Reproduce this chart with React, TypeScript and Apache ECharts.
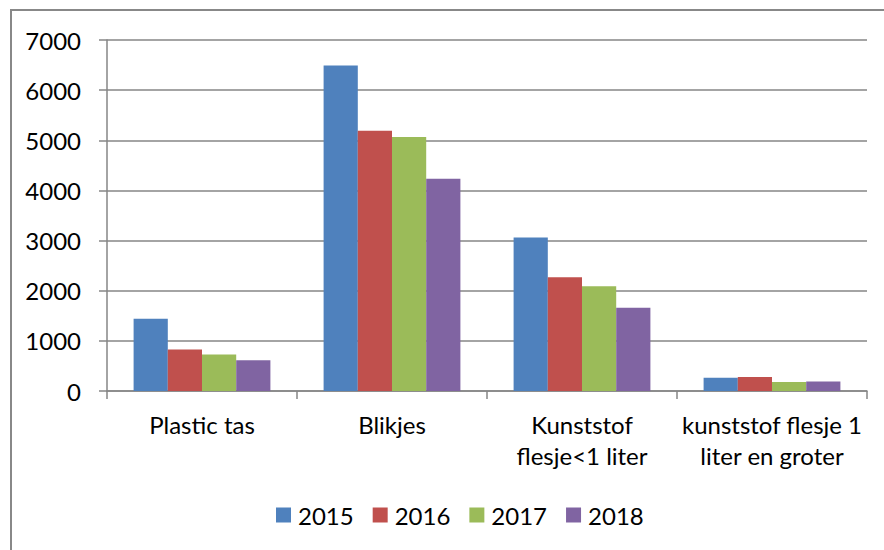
import React, { useEffect, useRef } from "react";
import * as echarts from "echarts";

const categories = ["Plastic tas", "Blikjes", "Kunststof\nflesje<1 liter", "kunststof flesje 1\nliter en groter"];
const years = ["2015", "2016", "2017", "2018"];
const v2015 = [1440, 6490, 3060, 265];
const v2016 = [830, 5190, 2270, 280];
const v2017 = [730, 5065, 2090, 180];
const v2018 = [615, 4235, 1660, 190];
const colors = ["#4F81BD", "#C0504D", "#9BBB59", "#8064A2"];
const yTicks = [0, 1000, 2000, 3000, 4000, 5000, 6000, 7000];

export default function App() {
  const ref = useRef<HTMLDivElement>(null);
  useEffect(() => {
    if (!ref.current) return;
    const chart = echarts.init(ref.current, undefined, { renderer: "svg" });
    const font = "Lato";
    const seriesData = [v2015, v2016, v2017, v2018];
    chart.setOption({
      animation: false,
      backgroundColor: "#fff",
      textStyle: { fontFamily: font },
      graphic: [
        {
          type: "rect",
          shape: { x: 11, y: 10, width: 900, height: 600 },
          style: { fill: "none", stroke: "#888888", lineWidth: 2 },
          silent: true,
        },
      ],
      grid: { left: 107, right: 17, top: 40, bottom: 159, containLabel: false },
      legend: {
        data: years,
        left: 271,
        top: 498,
        itemWidth: 15,
        itemHeight: 15,
        itemGap: 19,
        icon: "rect",
        textStyle: { fontFamily: font, fontSize: 24, color: "#000", padding: [0, 0, 0, 2] },
      },
      xAxis: {
        type: "category",
        data: categories,
        boundaryGap: true,
        axisLine: { show: true, lineStyle: { color: "#868686", width: 1.5 } },
        axisTick: { show: true, length: 8, alignWithLabel: false, lineStyle: { color: "#868686", width: 1.5 } },
        axisLabel: {
          interval: 0,
          margin: 18,
          fontFamily: font,
          fontSize: 24,
          lineHeight: 31,
          color: "#000",
        },
      },
      yAxis: {
        type: "value",
        min: yTicks[0],
        max: yTicks[yTicks.length - 1],
        interval: 1000,
        axisLine: { show: true, lineStyle: { color: "#868686", width: 1.5 } },
        axisTick: { show: true, length: 8, lineStyle: { color: "#868686", width: 1.5 } },
        splitLine: { show: true, lineStyle: { color: "#868686", width: 1.5 } },
        axisLabel: { margin: 26, fontFamily: font, fontSize: 24, color: "#000", formatter: (v: number) => String(v) },
      },
      series: years.map((y, i) => ({
        name: y,
        type: "bar",
        data: seriesData[i],
        barGap: "0%",
        barCategoryGap: "28%",
        itemStyle: { color: colors[i] },
      })),
    });
    return () => chart.dispose();
  }, []);
  return <div ref={ref} style={{ width: 884, height: 550, position: "absolute", left: 0, top: 0 }} />;
}
